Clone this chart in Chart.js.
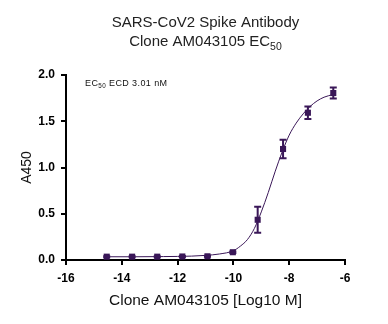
<!DOCTYPE html>
<html>
<head>
<meta charset="utf-8">
<script src="https://cdn.jsdelivr.net/npm/chart.js@4"></script>
<style>
  html, body { margin: 0; padding: 0; background: #fff; }
  #wrap { width: 388px; height: 324px; position: relative; }
</style>
</head>
<body>
<div id="wrap"><canvas id="ec50-chart" width="388" height="324"></canvas></div>
<script>
/* ── data ── */
const logConc   = [-14.54, -13.63, -12.73, -11.83, -10.93, -10.02, -9.13, -8.22, -7.33, -6.42];
const a450Mean  = [0.036, 0.036, 0.036, 0.038, 0.040, 0.084, 0.435, 1.200, 1.592, 1.805];
const a450Err   = [0.005, 0.005, 0.005, 0.005, 0.005, 0.008, 0.140, 0.100, 0.068, 0.060];

// fitted curve, sampled along the concentration range
const fitX = [-14.54, -13.5, -12.5, -11.5, -11.0, -10.5, -10.0, -9.75, -9.5, -9.25, -9.0, -8.75, -8.5, -8.25, -8.0, -7.75, -7.5, -7.25, -7.0, -6.75, -6.42];
const fitY = [0.035, 0.035, 0.037, 0.042, 0.050, 0.065, 0.100, 0.150, 0.220, 0.340, 0.520, 0.730, 0.960, 1.170, 1.350, 1.480, 1.580, 1.660, 1.720, 1.760, 1.790];

const xTicks = [-16, -14, -12, -10, -8, -6];
const yTicks = [0, 0.5, 1.0, 1.5, 2.0];

const titleLines = [
  [['SARS-CoV2 Spike Antibody', false]],
  [['Clone AM043105 EC', false], ['50', true]],
];
const noteParts = [['EC', false], ['50', true], [' ECD 3.01 nM', false]];

const PURPLE = '#3a1758';
const FONT = "'Liberation Sans', Arial, sans-serif";

/* ── helpers ── */
function partsWidth(ctx, parts, size) {
  let w = 0;
  parts.forEach(([t, sub]) => {
    ctx.font = (sub ? size * 0.7 : size) + 'px ' + FONT;
    w += ctx.measureText(t).width;
  });
  return w;
}

function drawParts(ctx, parts, x, y, size, align) {
  let cx = align === 'center' ? x - partsWidth(ctx, parts, size) / 2 : x;
  ctx.textAlign = 'left';
  ctx.textBaseline = 'alphabetic';
  parts.forEach(([t, sub]) => {
    ctx.font = (sub ? size * 0.7 : size) + 'px ' + FONT;
    ctx.fillText(t, cx, sub ? y + size * 0.25 : y);
    cx += ctx.measureText(t).width;
  });
}

/* ── title + EC50 note ── */
const textPlugin = {
  id: 'texts',
  afterDraw(chart) {
    const { ctx, chartArea } = chart;
    const mid = (chartArea.left + chartArea.right) / 2;
    ctx.save();
    ctx.fillStyle = '#222';
    drawParts(ctx, titleLines[0], mid, 27, 15, 'center');
    drawParts(ctx, titleLines[1], mid, 46, 15, 'center');
    ctx.fillStyle = '#111';
    ctx.letterSpacing = '0.4px';
    drawParts(ctx, noteParts, chartArea.left + 19, 86, 9, 'left');
    ctx.restore();
  },
};

/* ── SEM error bars ── */
const errorBarPlugin = {
  id: 'errorBars',
  afterDatasetsDraw(chart) {
    const { ctx, scales: { x, y } } = chart;
    ctx.save();
    ctx.strokeStyle = PURPLE;
    ctx.lineWidth = 2;
    logConc.forEach((c, i) => {
      const px = x.getPixelForValue(c);
      const top = y.getPixelForValue(a450Mean[i] + a450Err[i]);
      const bot = y.getPixelForValue(a450Mean[i] - a450Err[i]);
      ctx.beginPath();
      ctx.moveTo(px, top); ctx.lineTo(px, bot);
      ctx.moveTo(px - 3.5, top); ctx.lineTo(px + 3.5, top);
      ctx.moveTo(px - 3.5, bot); ctx.lineTo(px + 3.5, bot);
      ctx.stroke();
    });
    ctx.restore();
  },
};

const axisStyle = {
  grid: { drawOnChartArea: false, drawTicks: true, tickLength: 5, color: '#000', lineWidth: 2 },
  border: { color: '#000', width: 2 },
};

new Chart(document.getElementById('ec50-chart'), {
  type: 'scatter',
  data: {
    datasets: [
      {
        label: 'Mean A450',
        data: logConc.map((c, i) => ({ x: c, y: a450Mean[i] })),
        pointStyle: 'rect',
        pointRadius: 4.3,
        backgroundColor: PURPLE,
        borderColor: PURPLE,
        borderWidth: 0,
      },
      {
        label: 'Fit',
        type: 'line',
        data: fitX.map((c, i) => ({ x: c, y: fitY[i] })),
        borderColor: PURPLE,
        borderWidth: 1,
        pointRadius: 0,
        cubicInterpolationMode: 'monotone',
        fill: false,
      },
    ],
  },
  options: {
    responsive: false,
    animation: false,
    devicePixelRatio: 1,
    layout: { padding: { top: 75, right: 43, bottom: 0, left: 0 } },
    plugins: { legend: { display: false }, tooltip: { enabled: false } },
    scales: {
      x: {
        type: 'linear',
        min: -16, max: -6,
        afterFit: s => { s.height = 64; },
        afterBuildTicks: s => { s.ticks = xTicks.map(v => ({ value: v })); },
        ticks: { color: '#000', padding: 6, font: { family: FONT, size: 12, weight: 'bold' }, callback: v => String(v) },
        title: { display: true, text: 'Clone AM043105 [Log10 M]', color: '#111', font: { family: FONT, size: 15.5 }, padding: { top: 0, bottom: 14 } },
        ...axisStyle,
      },
      y: {
        min: 0, max: 2,
        afterFit: s => { s.width = 66; },
        afterBuildTicks: s => { s.ticks = yTicks.map(v => ({ value: v })); },
        ticks: { color: '#000', padding: 6, font: { family: FONT, size: 12, weight: 'bold' }, callback: v => v.toFixed(1) },
        title: { display: true, text: 'A450', color: '#111', font: { family: FONT, size: 14 }, padding: { top: 19, bottom: 0 } },
        ...axisStyle,
      },
    },
  },
  plugins: [textPlugin, errorBarPlugin],
});
</script>
</body>
</html>
